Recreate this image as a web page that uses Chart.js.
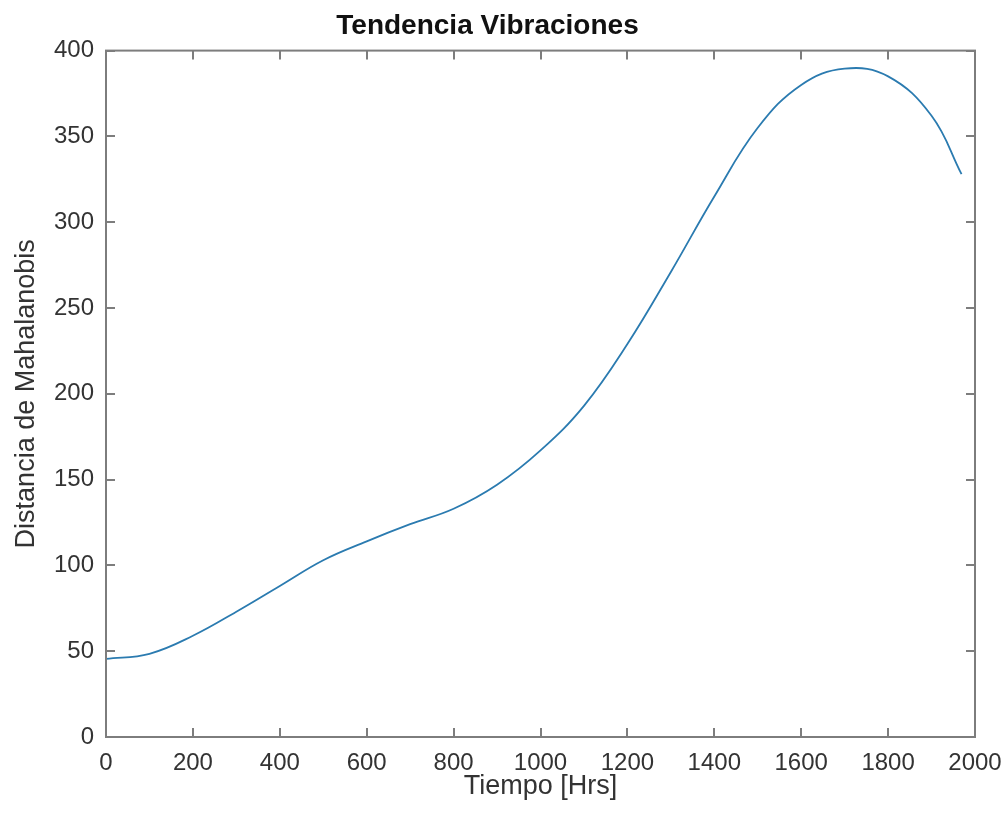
<!DOCTYPE html>
<html>
<head>
<meta charset="utf-8">
<script src="https://cdn.jsdelivr.net/npm/chart.js@4"></script>
<style>
  html, body { margin: 0; padding: 0; background: #fff; }
  #wrap { width: 1005px; height: 817px; }
</style>
</head>
<body>
<div id="wrap"><canvas id="chart" width="1005" height="817"></canvas></div>
<script>
// ── data ──
const hours = [0, 100, 200, 300, 400, 500, 600, 700, 800, 900, 1000, 1100, 1200, 1300, 1400, 1500, 1600, 1700, 1800, 1900, 1969];
const mahalanobis = [45.5, 48.5, 59, 73, 88, 103, 114, 124, 133, 147, 167, 193, 229, 271, 315, 355, 380, 389.5, 385, 362, 328];

const xTicks = [0, 200, 400, 600, 800, 1000, 1200, 1400, 1600, 1800, 2000];
const yTicks = [0, 50, 100, 150, 200, 250, 300, 350, 400];

const AXIS_COLOR = "#7d7d7d";
const TEXT_COLOR = "#333333";
const LINE_COLOR = "#2b7bb0";
const FONT = "'Liberation Sans', Arial, sans-serif";

// MATLAB-style box with inward ticks on all four sides
const boxTicks = {
    id: "boxTicks",
    afterDatasetsDraw(chart) {
        const { ctx, chartArea: a, scales } = chart;
        const len = 9;
        ctx.save();
        ctx.strokeStyle = AXIS_COLOR;
        ctx.lineWidth = 2;
        ctx.beginPath();
        xTicks.forEach((v) => {
            const px = Math.round(scales.x.getPixelForValue(v));
            ctx.moveTo(px, a.bottom); ctx.lineTo(px, a.bottom - len);
            ctx.moveTo(px, a.top); ctx.lineTo(px, a.top + len);
        });
        yTicks.forEach((v) => {
            const py = Math.round(scales.y.getPixelForValue(v));
            ctx.moveTo(a.left, py); ctx.lineTo(a.left + len, py);
            ctx.moveTo(a.right, py); ctx.lineTo(a.right - len, py);
        });
        ctx.stroke();
        ctx.strokeRect(a.left, a.top, a.right - a.left, a.bottom - a.top);
        ctx.restore();
    },
};

new Chart(document.getElementById("chart"), {
    type: "line",
    data: {
        datasets: [{
            data: hours.map((h, i) => ({ x: h, y: mahalanobis[i] })),
            borderColor: LINE_COLOR,
            borderWidth: 1.8,
            pointRadius: 0,
            tension: 0.4,
            fill: false,
        }],
    },
    options: {
        responsive: false,
        animation: false,
        layout: { padding: { top: 0, right: 30, bottom: 0, left: 0 } },
        plugins: {
            legend: { display: false },
            tooltip: { enabled: false },
            title: {
                display: true,
                text: "Tendencia Vibraciones",
                color: "#111",
                font: { family: FONT, size: 28, weight: "bold" },
                padding: { top: 9, bottom: 8 },
            },
        },
        scales: {
            x: {
                type: "linear",
                min: 0, max: 2000,
                afterBuildTicks: (s) => { s.ticks = xTicks.map((v) => ({ value: v })); },
                afterFit: (s) => { s.height = 80; s.paddingLeft = 0; s.paddingRight = 0; },
                grid: { display: false, drawTicks: false },
                border: { display: false },
                ticks: { color: TEXT_COLOR, font: { family: FONT, size: 24 }, padding: 12, maxRotation: 0, autoSkip: false, callback: (v) => String(v) },
                title: { display: true, text: "Tiempo [Hrs]", color: TEXT_COLOR, font: { family: FONT, size: 27 }, padding: { top: 0, bottom: 14 } },
            },
            y: {
                type: "linear",
                min: 0, max: 400,
                afterBuildTicks: (s) => { s.ticks = yTicks.map((v) => ({ value: v })); },
                afterFit: (s) => { s.width = 106; s.paddingTop = 0; s.paddingBottom = 0; },
                grid: { display: false, drawTicks: false },
                border: { display: false },
                ticks: { color: TEXT_COLOR, font: { family: FONT, size: 24 }, padding: 12, autoSkip: false, callback: (v) => String(v) },
                title: { display: true, text: "Distancia de Mahalanobis", color: TEXT_COLOR, font: { family: FONT, size: 27 }, padding: { top: 10, bottom: 0 } },
            },
        },
    },
    plugins: [boxTicks],
});
</script>
</body>
</html>
